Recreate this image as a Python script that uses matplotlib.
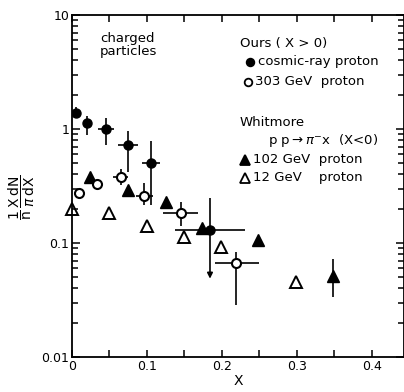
import matplotlib
matplotlib.use("Agg")
import matplotlib.pyplot as plt
from matplotlib.ticker import FixedLocator, LogLocator, NullFormatter
import numpy as np

plt.rcParams['font.family'] = ['DejaVu Sans']
plt.rcParams['mathtext.fontset'] = 'dejavusans'

# cosmic-ray proton (filled circles)
cos_x = [0.005, 0.02, 0.045, 0.075, 0.105, 0.184]
cos_y = [1.39, 1.12, 1.0, 0.73, 0.50, 0.129]
cos_xlo = [0.005, 0.02, 0.035, 0.061, 0.093, 0.137]
cos_xhi = [0.005, 0.02, 0.056, 0.088, 0.117, 0.231]
cos_ylo = [1.27, 0.88, 0.73, 0.42, 0.215, 0.129]
cos_yhi = [1.55, 1.31, 1.26, 0.97, 0.78, 0.247]
cos_limit = 0.046   # arrow end for the last point

# 303 GeV proton (open circles)
p303_x = [0.01, 0.034, 0.065, 0.096, 0.145, 0.219]
p303_y = [0.273, 0.327, 0.377, 0.257, 0.182, 0.0666]
p303_xlo = [0.01, 0.034, 0.055, 0.085, 0.121, 0.191]
p303_xhi = [0.01, 0.034, 0.075, 0.108, 0.168, 0.249]
p303_ylo = [0.25, 0.30, 0.32, 0.214, 0.14, 0.0286]
p303_yhi = [0.30, 0.36, 0.45, 0.335, 0.228, 0.0832]

# Whitmore 102 GeV (filled triangles)
w102_x = [0.024, 0.075, 0.125, 0.173, 0.248, 0.348]
w102_y = [0.377, 0.29, 0.227, 0.135, 0.106, 0.051]
w102_ylo = [0.377, 0.29, 0.205, 0.135, 0.096, 0.0336]
w102_yhi = [0.377, 0.29, 0.227, 0.135, 0.106, 0.072]

# Whitmore 12 GeV (open triangles)
w12_x = [0.0, 0.049, 0.1, 0.15, 0.199, 0.299]
w12_y = [0.20, 0.182, 0.14, 0.112, 0.0917, 0.0454]

xticks = [0, 0.1, 0.2, 0.3, 0.4]
xtick_labels = ['0', '0.1', '0.2', '0.3', '0.4']
yticks = [0.01, 0.1, 1, 10]
ytick_labels = ['0.01', '0.1', '1', '10']


def errs(v, lo, hi):
    v = np.array(v)
    return [v - np.array(lo), np.array(hi) - v]


fig = plt.figure(figsize=(4.04, 3.92), dpi=100)
ax = fig.add_axes([72/404, 35/392, 332/404, 342/392])
ax.set_yscale('log')
ax.set_xlim(0, 0.4427)
ax.set_ylim(0.01, 10)

lw = 1.2
ax.errorbar(cos_x, cos_y, xerr=errs(cos_x, cos_xlo, cos_xhi),
            yerr=errs(cos_y, cos_ylo, cos_yhi), fmt='o', color='black',
            ms=6.5, elinewidth=lw, capsize=0)
ax.annotate('', xy=(cos_x[-1], cos_limit), xytext=(cos_x[-1], cos_y[-1]),
            arrowprops=dict(arrowstyle='-|>', color='black', lw=lw,
                            mutation_scale=8))

ax.errorbar(p303_x, p303_y, xerr=errs(p303_x, p303_xlo, p303_xhi),
            yerr=errs(p303_y, p303_ylo, p303_yhi), fmt='o', mfc='white',
            mec='black', mew=1.5, color='black', ms=6.5, elinewidth=lw,
            capsize=0, zorder=3)

ax.errorbar(w102_x, w102_y, yerr=errs(w102_y, w102_ylo, w102_yhi), fmt='^',
            color='black', ms=8, elinewidth=lw, capsize=0)

ax.plot(w12_x, w12_y, '^', mfc='none', mec='black', mew=1.4, ms=8.5,
        clip_on=False, zorder=4)

# axes and ticks
for s in ax.spines.values():
    s.set_linewidth(1.3)
ax.set_xticks(xticks)
ax.set_xticklabels(xtick_labels)
ax.xaxis.set_minor_locator(FixedLocator([0.05, 0.15, 0.25, 0.35]))
ax.set_yticks(yticks)
ax.set_yticklabels(ytick_labels)
ax.yaxis.set_minor_locator(LogLocator(base=10, subs=np.arange(2, 10)))
ax.yaxis.set_minor_formatter(NullFormatter())
ax.tick_params(which='both', direction='in', top=True, right=True,
               width=1.1, labelsize=9, pad=2)
ax.tick_params(axis='x', which='both', length=5)
ax.tick_params(axis='y', which='major', length=6)
ax.tick_params(axis='y', which='minor', length=4)

ax.set_xlabel('X', fontsize=10, labelpad=1)
fig.text(22/404, 1 - 197/392,
         r'$\dfrac{1}{\mathrm{n}}\,\dfrac{\mathrm{X\,dN}}{\pi\,\mathrm{dX}}$',
         rotation=90, ha='center', va='center', fontsize=10)

# key
fs = 9.5
fig.text(100/404, 1 - 45/392, 'charged\nparticles', fontsize=fs,
         ha='left', va='center', linespacing=1.0)
fig.text(240/404, 1 - 43/392, 'Ours ( X > 0)', fontsize=fs, va='center')
fig.text(258/404, 1 - 62/392, 'cosmic-ray proton', fontsize=fs, va='center')
fig.text(255/404, 1 - 82/392, '303 GeV  proton', fontsize=fs, va='center')
fig.text(240/404, 1 - 122/392, 'Whitmore', fontsize=fs, va='center')
fig.text(268/404, 1 - 140/392, r'p p$\rightarrow\pi^{-}$x  (X<0)',
         fontsize=fs, va='center')
fig.text(253/404, 1 - 160/392, '102 GeV  proton', fontsize=fs, va='center')
fig.text(253/404, 1 - 178/392, '12 GeV    proton', fontsize=fs, va='center')

key = [(250, 62, 'o', 'black', 5.5), (248, 82, 'o', 'white', 5.5),
       (245, 160, '^', 'black', 7.5), (245, 178, '^', 'white', 7.5)]
for px, py, m, fc, size in key:
    ax.plot([px/404], [1 - py/392], m, mfc=fc, mec='black', mew=1.3,
            ms=size, transform=fig.transFigure, clip_on=False)

fig.savefig('out.png', dpi=100)
